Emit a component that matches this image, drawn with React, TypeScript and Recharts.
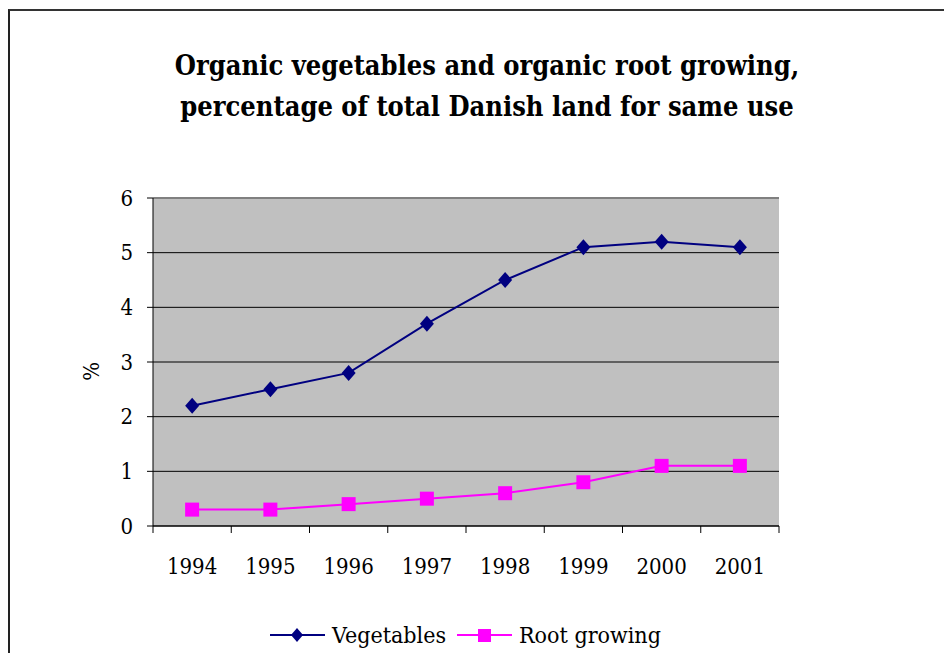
import {
  LineChart,
  Line,
  XAxis,
  YAxis,
  CartesianGrid,
  Legend,
  ReferenceLine,
} from "recharts";

const years = ["1994", "1995", "1996", "1997", "1998", "1999", "2000", "2001"];
const vegetables = [2.2, 2.5, 2.8, 3.7, 4.5, 5.1, 5.2, 5.1];
const rootGrowing = [0.3, 0.3, 0.4, 0.5, 0.6, 0.8, 1.1, 1.1];
const yTicks = [0, 1, 2, 3, 4, 5, 6];

const data = years.map((year, i) => ({
  year,
  vegetables: vegetables[i],
  root: rootGrowing[i],
}));

const NAVY = "#000080";
const MAGENTA = "#ff00ff";
const FONT = "'DejaVu Serif Condensed', 'DejaVu Serif', serif";

function Diamond(props: any) {
  const { cx, cy, fill } = props;
  if (cx == null || cy == null) return null;
  return (
    <path
      d={`M${cx},${cy - 8} L${cx + 7},${cy} L${cx},${cy + 8} L${cx - 7},${cy} Z`}
      fill={fill}
    />
  );
}

function Square(props: any) {
  const { cx, cy, fill } = props;
  if (cx == null || cy == null) return null;
  return <rect x={cx - 7} y={cy - 7} width={14} height={14} fill={fill} />;
}

// year label centred in its band, tick marks on the band edges (Excel style)
function YearTick(props: any) {
  const { x, y, payload, index, visibleTicksCount } = props;
  const half = payload.offset ?? 0;
  const last = index === visibleTicksCount - 1;
  return (
    <g>
      <line x1={x - half} y1={y} x2={x - half} y2={y + 7} stroke="#000" />
      {last && <line x1={x + half} y1={y} x2={x + half} y2={y + 7} stroke="#000" />}
      <text
        x={x}
        y={y + 32}
        dy="0.71em"
        textAnchor="middle"
        fontSize={22}
        fontFamily={FONT}
        fontStretch="condensed"
        fill="#000"
      >
        {payload.value}
      </text>
    </g>
  );
}

function LegendContent() {
  const item = (label: string, color: string, marker: "d" | "s") => (
    <span style={{ display: "inline-flex", alignItems: "center", marginRight: 10 }}>
      <svg width={58} height={20} style={{ marginRight: 5 }}>
        <line x1={1} y1={10} x2={56} y2={10} stroke={color} strokeWidth={2} />
        {marker === "d" ? (
          <path d="M28,3 L34,10 L28,17 L22,10 Z" fill={color} />
        ) : (
          <rect x={22} y={4} width={13} height={13} fill={color} />
        )}
      </svg>
      <span>{label}</span>
    </span>
  );
  return (
    <div
      style={{
        fontFamily: FONT,
        fontStretch: "condensed",
        fontSize: 23,
        color: "#000",
        display: "flex",
        justifyContent: "center",
        paddingLeft: 48,
        paddingTop: 18,
      }}
    >
      {item("Vegetables", NAVY, "d")}
      {item("Root growing", MAGENTA, "s")}
    </div>
  );
}

export default function App() {
  return (
    <div
      style={{
        position: "relative",
        width: 944,
        height: 645,
        borderTop: "2px solid #333",
        borderLeft: "2px solid #222",
        boxSizing: "border-box",
        marginTop: 1,
        background: "#fff",
        fontFamily: FONT,
        fontStretch: "condensed",
      }}
    >
      <div
        style={{
          position: "absolute",
          left: 0,
          width: 944,
          top: 34,
          textAlign: "center",
          fontWeight: "bold",
          fontSize: 27,
          lineHeight: "41px",
          color: "#000",
          paddingLeft: 10,
          boxSizing: "border-box",
        }}
      >
        Organic vegetables and organic root growing,
        <br />
        percentage of total Danish land for same use
      </div>
      <LineChart
        width={942}
        height={643}
        data={data}
        margin={{ top: 187, right: 173, left: 103, bottom: 0 }}
      >
        <CartesianGrid
          vertical={false}
          stroke="#000"
          strokeWidth={1}
          fill="#c0c0c0"
        />
        <XAxis
          dataKey="year"
          scale="band"
          stroke="#000"
          tickLine={false}
          tickSize={0}
          tickMargin={0}
          height={78}
          interval={0}
          tick={<YearTick />}
        />
        <YAxis
          domain={[0, 6]}
          ticks={yTicks}
          width={40}
          stroke="#000"
          tickSize={6}
          tickMargin={14}
          tick={{ fontSize: 22, fill: "#000", fontFamily: FONT, fontStretch: "condensed" }}
          label={{
            value: "%",
            angle: -90,
            position: "left",
            offset: 22,
            style: { fontSize: 22, fill: "#000", fontFamily: FONT, fontStretch: "condensed" },
          }}
        />
        <ReferenceLine y={6} stroke="#808080" strokeWidth={2} />
        <Legend verticalAlign="bottom" height={50} content={<LegendContent />} />
        <Line
          dataKey="vegetables"
          name="Vegetables"
          stroke={NAVY}
          strokeWidth={2}
          fill={NAVY}
          dot={<Diamond fill={NAVY} />}
          activeDot={false}
          isAnimationActive={false}
        />
        <Line
          dataKey="root"
          name="Root growing"
          stroke={MAGENTA}
          strokeWidth={2}
          fill={MAGENTA}
          dot={<Square fill={MAGENTA} />}
          activeDot={false}
          isAnimationActive={false}
        />
      </LineChart>
    </div>
  );
}
